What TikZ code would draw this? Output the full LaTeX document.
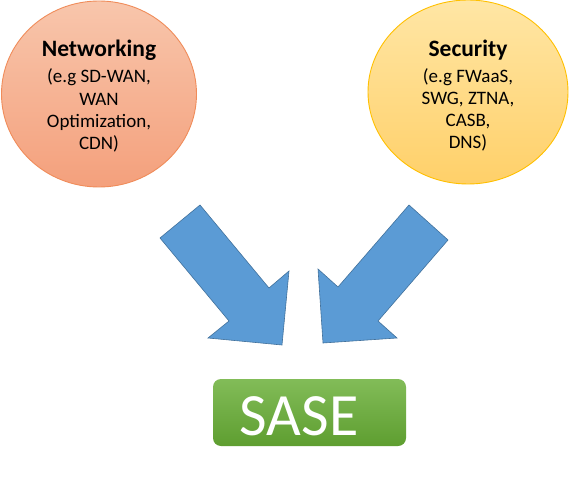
\documentclass[tikz,border=0pt]{standalone}
\usepackage{fontspec}
\setmainfont{Carlito}
\usetikzlibrary{shapes.geometric}
\definecolor{netTop}{RGB}{248,198,172}
\definecolor{netBot}{RGB}{244,160,124}
\definecolor{netLine}{RGB}{240,140,90}
\definecolor{secTop}{RGB}{255,230,165}
\definecolor{secBot}{RGB}{255,208,105}
\definecolor{secLine}{RGB}{255,192,0}
\definecolor{arrFill}{RGB}{91,155,213}
\definecolor{arrLine}{RGB}{65,113,156}
\definecolor{saseTop}{RGB}{130,188,88}
\definecolor{saseBot}{RGB}{94,158,48}
\tikzset{
  bubble/.style={ellipse, inner sep=0pt, line width=0.9pt},
  headtxt/.style={anchor=base, font=\fontsize{23.5}{26}\selectfont\bfseries},
  bodytxt/.style={anchor=base, font=\fontsize{19}{22}\selectfont},
  blockarrow/.style={fill=arrFill, draw=arrLine, line width=0.6pt, line join=miter},
}
\begin{document}
\begin{tikzpicture}[x=1pt,y=-1pt]
\useasboundingbox (0,0) rectangle (569,502);
\fill[white] (0,0) rectangle (569,502);
% bubbles
\node[bubble, minimum width=195pt, minimum height=186pt, draw=netLine, top color=netTop, bottom color=netBot] (net) at (99,94) {};
\node[bubble, minimum width=200pt, minimum height=184pt, draw=secLine, top color=secTop, bottom color=secBot] (sec) at (468,92) {};
% networking text
\node[headtxt] (n1) at (99,57) {Networking};
\node[bodytxt] (n2) at (99,83) {(e.g SD-WAN,};
\node[bodytxt] (n3) at (99,106) {WAN};
\node[bodytxt] (n4) at (99,128) {Optimization,};
\node[bodytxt] (n5) at (99,150) {CDN)};
% security text
\node[headtxt] (s1) at (468,57) {Security};
\node[bodytxt] (s2) at (468,83) {(e.g FWaaS,};
\node[bodytxt] (s3) at (468,105) {SWG, ZTNA,};
\node[bodytxt] (s4) at (468,127) {CASB,};
\node[bodytxt] (s5) at (468,149) {DNS)};
% block arrows
\draw[blockarrow] (160,238) -- (200,205) -- (269,288) -- (289,271) -- (282,345) -- (208,338) -- (229,321) -- cycle;
\draw[blockarrow] (409,205) -- (448,240) -- (378,321) -- (397,338) -- (323,343) -- (318,269) -- (338,287) -- cycle;
% SASE box
\node[rounded corners=8pt, minimum width=193pt, minimum height=67pt, inner sep=0pt, top color=saseTop, bottom color=saseBot] (sase) at (309.5,412.5) {};
\node[anchor=base, text=white, font=\fontsize{60}{60}\selectfont] (sasetxt) at (299,435) {SASE};
\end{tikzpicture}
\end{document}
